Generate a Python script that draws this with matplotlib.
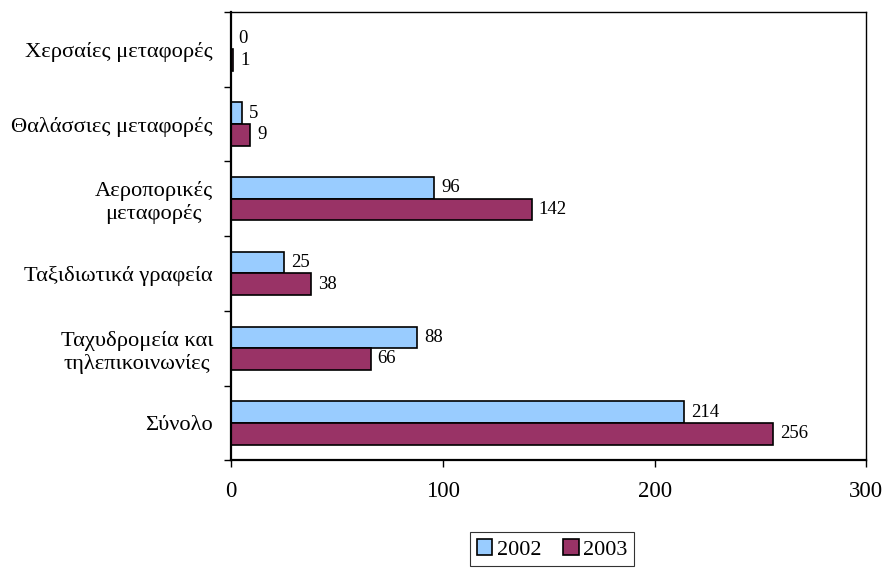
import matplotlib
matplotlib.use("Agg")
import matplotlib.pyplot as plt
import numpy as np

categories = ["Χερσαίες μεταφορές", "Θαλάσσιες μεταφορές", "Αεροπορικές\nμεταφορές",
              "Ταξιδιωτικά γραφεία", "Ταχυδρομεία και\nτηλεπικοινωνίες", "Σύνολο"]
values_2002 = [0, 5, 96, 25, 88, 214]
values_2003 = [1, 9, 142, 38, 66, 256]
series_names = ["2002", "2003"]
x_ticks = [0, 100, 200, 300]

plt.rcParams['font.family'] = ['Liberation Serif', 'DejaVu Serif']

fig = plt.figure(figsize=(8.85, 5.71), dpi=100)
ax = fig.add_axes([0.261, 0.194, 0.718, 0.785])

n = len(categories)
pos = np.arange(n)
h = 0.29
c1, c2 = "#99CCFF", "#993366"
b1 = ax.barh(pos - h/2, values_2002, height=h, color=c1, edgecolor="black", linewidth=1.2, label=series_names[0])
b2 = ax.barh(pos + h/2, values_2003, height=h, color=c2, edgecolor="black", linewidth=1.2, label=series_names[1])

for bars, vals in ((b1, values_2002), (b2, values_2003)):
    for rect, v in zip(bars, vals):
        ax.annotate(str(v), xy=(v, rect.get_y() + rect.get_height()/2),
                    xytext=(5, 0), textcoords="offset points",
                    ha="left", va="center", fontsize=13.5)

ax.set_xlim(0, 300)
ax.set_ylim(n - 0.5, -0.5)
ax.set_xticks(x_ticks)
ax.set_xticklabels([str(t) for t in x_ticks], fontsize=16.5)
ax.tick_params(axis="x", direction="out", length=5, width=1, pad=10)

ax.set_yticks(np.arange(-0.5, n, 1.0))
ax.set_yticklabels([])
ax.tick_params(axis="y", which="major", direction="out", length=5, width=1)
ax.set_yticks(pos, minor=True)
ax.set_yticklabels(categories, minor=True, fontsize=16.2, ha="right", multialignment="center")
ax.tick_params(axis="y", which="minor", length=0, pad=13)

for s in ("left", "bottom"):
    ax.spines[s].set_linewidth(1.6)
for s in ("top", "right"):
    ax.spines[s].set_linewidth(1.0)

leg = fig.legend(handles=[b1, b2], labels=series_names, loc="center",
                 bbox_to_anchor=(0.624, 0.038), ncol=2, fontsize=16,
                 frameon=True, fancybox=False, edgecolor="black",
                 handlelength=0.7, handleheight=0.7, handletextpad=0.2,
                 columnspacing=1.0, borderpad=0.3)
leg.get_frame().set_linewidth(0.8)

fig.savefig("out.png", dpi=100)
